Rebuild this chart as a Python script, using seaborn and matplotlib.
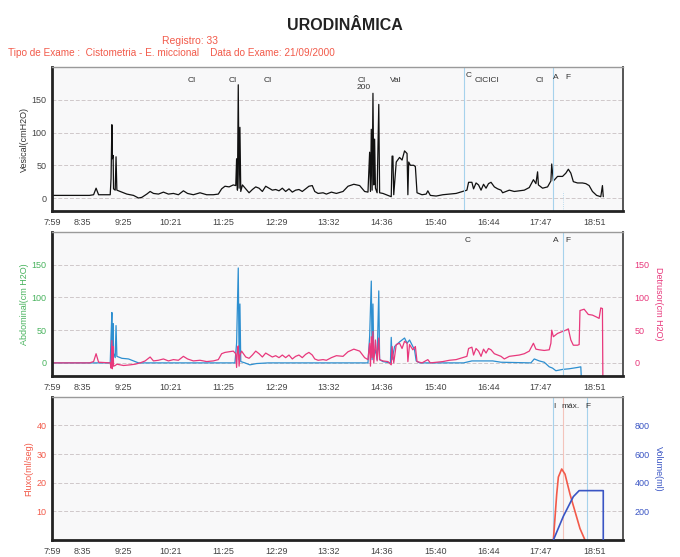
"""
Urodinâmica - cistometria / estudo miccional, três painéis empilhados.
"""

import matplotlib
matplotlib.use("Agg")
import matplotlib.pyplot as plt
import seaborn as sns

# ── Eixo do tempo (minutos desde 7:59) ───────────────────────────────────────
tick_min = [0, 36, 86, 142, 206, 270, 333, 397, 461, 525, 588, 652]
tick_lbl = ["7:59", "8:35", "9:25", "10:21", "11:25", "12:29", "13:32",
            "14:36", "15:40", "16:44", "17:47", "18:51"]

# ── Pressão vesical (cm H2O) ─────────────────────────────────────────────────
ves_t = [0, 45, 50, 53, 56, 70, 71, 72, 72.6, 73.5, 74, 76, 77, 78, 82, 90, 98,
         104, 108, 114, 118, 122, 128, 134, 140, 146, 152, 158, 163, 170, 178,
         186, 194, 200, 204, 208, 213, 218, 221, 222, 223, 224, 225, 226, 227,
         229, 233, 237, 241, 245, 249, 253, 257, 261, 265, 269, 273, 277, 281,
         285, 289, 293, 297, 301, 305, 309, 313, 316, 320, 326, 330, 336, 342,
         350, 356, 363, 370, 376, 380, 382, 383, 384, 385, 386, 387, 388, 389,
         391, 393, 394, 398, 404, 408, 409, 410, 411, 414, 418, 421, 424, 427,
         428, 429, 431, 435, 437, 439, 445, 450, 452, 455, 462, 470, 478, 486,
         494, 499, 501, 505, 507, 510, 513, 516, 519, 522, 525, 528, 532, 536,
         540, 542, 546, 550, 556, 562, 568, 574, 579, 582, 584, 585, 590, 596,
         600, 601, 603, 608, 614, 618, 621, 624, 627, 632, 638, 642, 646, 650,
         655, 660, 662, 663]
ves_v = [4, 4, 5, 15, 5, 5, 30, 112, 60, 65, 14, 12, 63, 12, 10, 6, 4,
         0, 1, 6, 10, 7, 6, 9, 6, 7, 5, 11, 7, 5, 8,
         5, 5, 6, 14, 18, 17, 20, 19, 60, 12, 173, 15, 108, 10,
         20, 14, 8, 13, 17, 15, 10, 18, 15, 12, 13, 11, 15, 10,
         14, 9, 12, 13, 10, 14, 18, 19, 10, 7, 8, 6, 9, 7,
         10, 18, 21, 19, 10, 9, 70, 10, 105, 12, 160, 20, 90, 15,
         8, 143, 8, 7, 4, 2, 64, 64, 5, 55, 62, 58, 72, 68,
         5, 55, 50, 50, 48, 8, 5, 6, 11, 4, 3, 5, 6, 7,
         10, 12, 24, 24, 14, 23, 20, 12, 21, 15, 22, 24, 17, 14,
         12, 8, 10, 12, 10, 11, 12, 16, 28, 22, 40, 20, 15, 17,
         26, 52, 26, 33, 33, 38, 44, 38, 25, 23, 23, 22, 19, 10,
         4, 2, 19, 2]

# ── Pressão abdominal (cm H2O) ───────────────────────────────────────────────
abd_t = [0, 70, 71, 72, 72.6, 73.5, 74, 76, 77, 78, 84, 92, 100, 104, 220, 222,
         224, 225, 226, 227, 232, 238, 246, 260, 380, 382, 384, 385, 386, 387,
         389, 391, 393, 394, 398, 407, 408, 409, 412, 418, 424, 427, 430, 436,
         438, 442, 495, 505, 530, 540, 576, 580, 586, 592, 598, 602, 606, 614,
         622, 632, 636, 636.5]
abd_v = [0, 0, 40, 77, 10, 60, 15, 8, 57, 10, 7, 6, 2, 0, 0, 30,
         145, 5, 90, 2, 0, -3, -1, 0, 0, 40, 125, 5, 90, 10,
         20, 5, 110, 5, 2, 0, 39, 5, 25, 32, 38, 30, 35, 20,
         3, 0, 0, 3, 3, 1, 0, 6, 3, 1, -6, -8, -12, -10,
         -9, -7, -6, -20]

# ── Pressão detrusora (cm H2O) ───────────────────────────────────────────────
det_t = [0, 45, 50, 53, 56, 70, 71, 72, 72.6, 73.5, 74, 76, 78, 86, 94, 100,
         106, 112, 118, 122, 128, 134, 140, 146, 152, 158, 163, 170, 178, 186,
         194, 200, 204, 208, 213, 218, 221, 222, 223, 224, 225, 226, 228, 233,
         237, 241, 245, 249, 253, 257, 261, 265, 269, 273, 277, 281, 285, 289,
         293, 297, 301, 305, 309, 313, 316, 320, 326, 330, 336, 342, 350, 356,
         363, 370, 376, 380, 382, 383, 384, 385, 386, 387, 389, 391, 393, 394,
         398, 404, 408, 409, 411, 414, 418, 421, 424, 427, 428, 430, 434, 437,
         439, 445, 452, 455, 462, 470, 478, 486, 494, 499, 501, 505, 507, 510,
         513, 516, 519, 522, 525, 528, 532, 536, 540, 544, 550, 556, 562, 568,
         574, 579, 582, 586, 592, 598, 600, 601, 603, 608, 614, 618, 621, 624,
         627, 632, 634, 635, 640, 645, 650, 655, 658, 660, 662, 662.5]
det_v = [0, 0, 2, 14, 1, 0, -8, 34, -9, 25, -5, -4, -2, -4, -3, -2,
         0, 3, 9, 3, 4, 6, 3, 5, 4, 10, 6, 3, 4, 2,
         3, 5, 14, 16, 17, 18, 14, -7, 20, 26, -5, 12, 18, 9,
         7, 12, 18, 14, 9, 15, 12, 9, 11, 8, 12, 8, 12, 6,
         10, 12, 8, 13, 16, 12, 6, 4, 5, 4, 8, 11, 10, 17,
         21, 18, 8, 5, 30, -5, 40, 8, 48, 0, 35, 3, 38, 5,
         3, 2, -3, 25, 0, 28, 30, 22, 33, 30, 2, 28, 20, 25,
         2, 0, 5, 0, 1, 2, 4, 5, 8, 10, 22, 24, 12, 22,
         18, 10, 21, 15, 22, 20, 14, 12, 10, 6, 10, 11, 12, 14,
         18, 30, 21, 20, 19, 20, 30, 50, 40, 45, 48, 50, 52, 35,
         27, 27, 28, 80, 82, 74, 73, 70, 68, 84, 83, -20]

# ── Fluxo (ml/seg) e volume (ml) ─────────────────────────────────────────────
flx_t = [603, 607, 609, 613, 617, 623, 629, 635, 641]
flx_v = [0, 16, 22, 24.8, 23, 16, 10, 4, 0]
vol_t = [603, 615, 627, 634, 663, 663]
vol_v = [0, 166, 303, 345, 345, 0]

# ── Marcadores de eventos ────────────────────────────────────────────────────
ves_marks = [(168, "CI"), (217, "CI"), (259, "CI"), (372, "CI"), (413, "Val"),
             (523, "CICICI"), (587, "CI")]

RED = "#f25a4a"
PINK = "#e8387c"
BLUE = "#2d8fd0"
GREEN = "#49b35e"
VBLUE = "#3a55c4"
LINE = "#a6d2ec"

sns.set_theme(style="white")
plt.rcParams["font.family"] = ["Liberation Sans", "DejaVu Sans"]

fig = plt.figure(figsize=(6.8, 5.57), dpi=100)
rect_l, rect_w = 0.0765, 0.84
ax1 = fig.add_axes([rect_l, 0.621, rect_w, 0.2585])
ax2 = fig.add_axes([rect_l, 0.325, rect_w, 0.2585])
ax3 = fig.add_axes([rect_l, 0.0305, rect_w, 0.257])


def style_axis(ax, ylim, yticks, ycolor):
    ax.set_facecolor("#f8f8f9")
    ax.set_xlim(0, 687)
    ax.set_ylim(*ylim)
    ax.set_yticks(yticks)
    ax.set_xticks(tick_min)
    ax.set_xticklabels(tick_lbl)
    ax.tick_params(axis="x", labelsize=6.5, colors="#444444", length=0, pad=5)
    ax.tick_params(axis="y", labelsize=6.5, colors=ycolor, length=0, pad=4)
    for y in yticks:
        ax.axhline(y, color="#cfc8ca", lw=0.7, ls=(0, (4, 2)), zorder=0)
    ax.spines["left"].set_color("#222222")
    ax.spines["left"].set_linewidth(2.0)
    ax.spines["bottom"].set_color("#222222")
    ax.spines["bottom"].set_linewidth(2.0)
    ax.spines["top"].set_color("#9a9a9a")
    ax.spines["top"].set_linewidth(1.0)
    ax.spines["right"].set_color("#555555")
    ax.spines["right"].set_linewidth(1.4)


# ── Painel 1: vesical ────────────────────────────────────────────────────────
style_axis(ax1, (-20, 200), [0, 50, 100, 150], "#444444")
sns.lineplot(x=ves_t, y=ves_v, ax=ax1, estimator=None, sort=False,
             color="#111111", linewidth=0.9)
ax1.set_ylabel("Vesical(cmH2O)", fontsize=6.5, color="#333333", labelpad=2)
ax1.axvline(496, color=LINE, lw=0.8)
ax1.axvline(602, color=LINE, lw=0.8)
ax1.plot([615, 615], [-20, 10], color=LINE, lw=0.6, ls=":")
for t, lbl in ves_marks:
    ax1.text(t, 0.91, lbl, transform=ax1.get_xaxis_transform(),
             fontsize=6, color="#333333", ha="center", va="center")
ax1.text(375, 0.855, "200", transform=ax1.get_xaxis_transform(),
         fontsize=6, color="#333333", ha="center", va="center")
ax1.text(497, 0.94, "C", transform=ax1.get_xaxis_transform(),
         fontsize=6, color="#333333", ha="left", va="center")
ax1.text(606, 0.93, "A", transform=ax1.get_xaxis_transform(),
         fontsize=6, color="#333333", ha="center", va="center")
ax1.text(620, 0.93, "F", transform=ax1.get_xaxis_transform(),
         fontsize=6, color="#333333", ha="center", va="center")

# ── Painel 2: abdominal / detrusor ───────────────────────────────────────────
style_axis(ax2, (-20, 200), [0, 50, 100, 150], GREEN)
ax2r = ax2.twinx()
ax2r.set_ylim(-20, 200)
ax2r.set_yticks([0, 50, 100, 150])
ax2r.tick_params(axis="y", labelsize=6.5, colors=PINK, length=0, pad=8)
for s in ax2r.spines.values():
    s.set_visible(False)
ax2r.set_ylabel("Detrusor(cm H2O)", fontsize=6.5, color=PINK, rotation=270,
                labelpad=10)
sns.lineplot(x=abd_t, y=abd_v, ax=ax2, estimator=None, sort=False,
             color=BLUE, linewidth=0.9)
sns.lineplot(x=det_t, y=det_v, ax=ax2, estimator=None, sort=False,
             color=PINK, linewidth=0.9)
ax2.set_ylabel("Abdominal(cm H2O)", fontsize=6.5, color=GREEN, labelpad=2)
ax2.axvline(615, color=LINE, lw=0.8)
ax2.text(500, 0.94, "C", transform=ax2.get_xaxis_transform(),
         fontsize=6, color="#333333", ha="center", va="center")
ax2.text(606, 0.94, "A", transform=ax2.get_xaxis_transform(),
         fontsize=6, color="#333333", ha="center", va="center")
ax2.text(620, 0.94, "F", transform=ax2.get_xaxis_transform(),
         fontsize=6, color="#333333", ha="center", va="center")

# ── Painel 3: fluxo / volume ─────────────────────────────────────────────────
style_axis(ax3, (0, 50), [10, 20, 30, 40], RED)
ax3r = ax3.twinx()
ax3r.set_ylim(0, 1000)
ax3r.set_yticks([200, 400, 600, 800])
ax3r.tick_params(axis="y", labelsize=6.5, colors=VBLUE, length=0, pad=8)
for s in ax3r.spines.values():
    s.set_visible(False)
ax3r.set_ylabel("Volume(ml)", fontsize=6.5, color=VBLUE, rotation=270,
                labelpad=10)
ax3.axvline(602, color=LINE, lw=0.8)
ax3.axvline(615, color="#f4c4bc", lw=0.8)
ax3.axvline(643, color=LINE, lw=0.8)
sns.lineplot(x=flx_t, y=flx_v, ax=ax3, estimator=None, sort=False,
             color=RED, linewidth=1.2)
sns.lineplot(x=vol_t, y=vol_v, ax=ax3r, estimator=None, sort=False,
             color=VBLUE, linewidth=1.2)
ax3.set_ylabel("Fluxo(ml/seg)", fontsize=6.5, color=RED, labelpad=2)
ax3.text(604, 0.93, "I", transform=ax3.get_xaxis_transform(),
         fontsize=6, color="#333333", ha="center", va="center")
ax3.text(624, 0.93, "máx.", transform=ax3.get_xaxis_transform(),
         fontsize=6, color="#333333", ha="center", va="center")
ax3.text(644, 0.93, "F", transform=ax3.get_xaxis_transform(),
         fontsize=6, color="#333333", ha="center", va="center")

# ── Cabeçalho ────────────────────────────────────────────────────────────────
fig.text(0.507, 0.955, "URODINÂMICA", ha="center", va="center",
         fontsize=11.5, fontweight="bold", color="#222222")
fig.text(0.28, 0.926, "Registro: 33", ha="center", va="center",
         fontsize=7.5, color=RED)
fig.text(0.012, 0.905,
         "Tipo de Exame :  Cistometria - E. miccional    Data do Exame: 21/09/2000",
         ha="left", va="center", fontsize=7.2, color=RED)

fig.savefig("out.png", dpi=100)
